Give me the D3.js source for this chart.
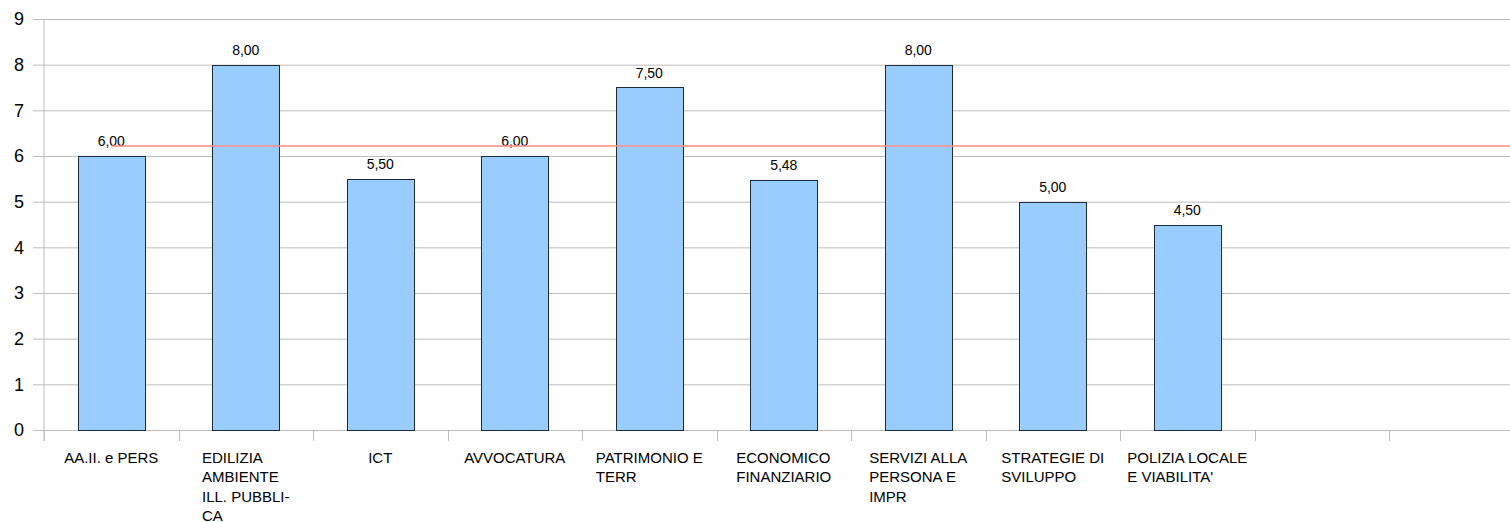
<!DOCTYPE html>
<html>
<head>
<meta charset="utf-8">
<script src="https://cdn.jsdelivr.net/npm/d3@7/dist/d3.min.js"></script>
<style>
  html, body { margin: 0; padding: 0; background: #fff; }
  svg { display: block; font-family: "Liberation Sans", Arial, sans-serif; }
  .grid line { stroke: #bdbdbd; stroke-width: 1; }
  .grid path { display: none; }
  .ylab text { font-size: 18px; fill: #000; }
  .cat { font-size: 15px; fill: #000; }
  .val { font-size: 14px; fill: #000; }
</style>
</head>
<body>
<svg class="chart" width="1510" height="522"></svg>
<script>
(function () {
  "use strict";

  // categories (line breaks as in the picture); last slots are empty
  const categories = [
    ["AA.II. e PERS"],
    ["EDILIZIA", "AMBIENTE", "ILL. PUBBLI-", "CA"],
    ["ICT"],
    ["AVVOCATURA"],
    ["PATRIMONIO E", "TERR"],
    ["ECONOMICO", "FINANZIARIO"],
    ["SERVIZI ALLA", "PERSONA E", "IMPR"],
    ["STRATEGIE DI", "SVILUPPO"],
    ["POLIZIA LOCALE", "E VIABILITA'"],
    [],
    [],
    []
  ];
  const values = [6.00, 8.00, 5.50, 6.00, 7.50, 5.48, 8.00, 5.00, 4.50];
  const meanLine = [6.22, 6.22, 6.22, 6.22, 6.22, 6.22, 6.22, 6.22, 6.22, 6.22, 6.22, 6.22];
  const yTicks = [0, 1, 2, 3, 4, 5, 6, 7, 8, 9];

  const svg = d3.select(".chart");
  const left = 44, top = 19, bottom = 430, step = 134.5;
  const fmt = v => v.toFixed(2).replace(".", ",");

  const idx = categories.map((d, i) => i);
  const x = d3.scaleBand().domain(idx).range([left, left + step * categories.length]).paddingInner(0);
  const y = d3.scaleLinear().domain([0, 9]).range([bottom, top]);
  const plotRight = 1510;

  // horizontal gridlines
  svg.append("g")
    .attr("class", "grid")
    .attr("transform", `translate(${left},0)`)
    .call(d3.axisLeft(y).tickValues(yTicks).tickSize(-(plotRight - left)).tickFormat(""));

  // small outer ticks on the y axis
  svg.append("g")
    .attr("class", "grid")
    .attr("transform", `translate(${left},0)`)
    .call(d3.axisLeft(y).tickValues(yTicks).tickSize(11).tickFormat(""));

  svg.append("g")
    .attr("class", "ylab")
    .selectAll("text")
    .data(yTicks)
    .join("text")
    .attr("x", 24)
    .attr("y", d => y(d))
    .attr("dy", "0.36em")
    .attr("text-anchor", "end")
    .text(d => d);

  // y axis line
  svg.append("line")
    .attr("x1", left).attr("x2", left)
    .attr("y1", top).attr("y2", bottom + 11)
    .attr("stroke", "#bdbdbd");

  // category boundary ticks
  svg.append("g")
    .selectAll("line")
    .data(idx)
    .join("line")
    .attr("x1", d => Math.round(x(d)) + 0.5)
    .attr("x2", d => Math.round(x(d)) + 0.5)
    .attr("y1", bottom)
    .attr("y2", bottom + 11)
    .attr("stroke", "#bdbdbd");

  // bars
  const bw = x.bandwidth() / 2;
  svg.append("g")
    .selectAll("rect")
    .data(values)
    .join("rect")
    .attr("x", (d, i) => Math.round(x(i) + x.bandwidth() / 2 - bw / 2) + 0.5)
    .attr("y", d => Math.round(y(d)) + 0.5)
    .attr("width", Math.round(bw))
    .attr("height", d => Math.round(y(0)) - Math.round(y(d)))
    .attr("fill", "#99ccff")
    .attr("stroke", "#1e2a36")
    .attr("stroke-width", 1);

  // value labels
  svg.append("g")
    .selectAll("text")
    .data(values)
    .join("text")
    .attr("class", "val")
    .attr("x", (d, i) => x(i) + x.bandwidth() / 2)
    .attr("y", d => y(d) - 10)
    .attr("text-anchor", "middle")
    .text(d => fmt(d));

  // mean line
  const line = d3.line()
    .x((d, i) => x(i) + x.bandwidth() / 2)
    .y(d => y(d));
  svg.append("path")
    .datum(meanLine)
    .attr("d", line)
    .attr("fill", "none")
    .attr("stroke", "#ff8c8c")
    .attr("stroke-width", 1.6);

  // category labels: block centred on the band, lines left aligned
  const catG = svg.append("g");
  categories.forEach((lines, i) => {
    if (!lines.length) return;
    const t = catG.append("text").attr("class", "cat");
    lines.forEach((s, j) => {
      t.append("tspan")
        .attr("x", 0)
        .attr("y", 462.5 + j * 19.5)
        .text(s);
    });
    const w = t.node().getBBox().width;
    const cx = x(i) + x.bandwidth() / 2;
    t.attr("transform", `translate(${cx - w / 2},0)`);
  });
})();
</script>
</body>
</html>
